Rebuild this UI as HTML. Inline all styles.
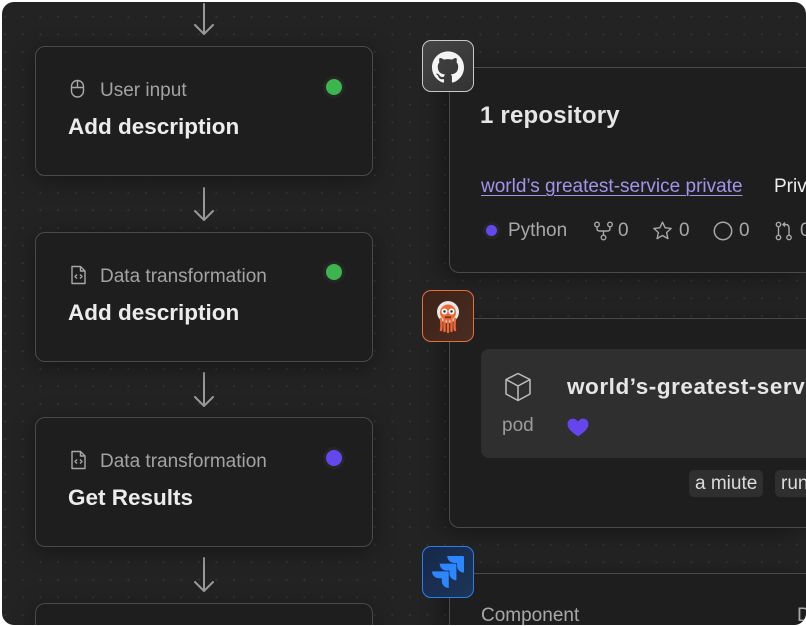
<!DOCTYPE html>
<html><head><meta charset="utf-8">
<style>
*{box-sizing:border-box;margin:0;padding:0}
html,body{width:806px;height:626px;background:#fff;overflow:hidden;font-family:"Liberation Sans",sans-serif}
#c{position:absolute;left:2px;top:2px;width:804px;height:623px;border-radius:12px;overflow:hidden;
 background-color:#232324;
 background-image:radial-gradient(circle,#333335 0.9px,transparent 1.3px);
 background-size:17.6px 17.6px;background-position:-5.5px 6.0px}
#w{position:absolute;left:-2px;top:-2px;width:806px;height:626px;overflow:hidden}
.a{position:absolute}
.card{position:absolute;left:35px;width:338px;height:130px;background:#1e1e1e;border:1.5px solid #4a4a4a;border-radius:10px;box-shadow:0 4px 22px rgba(0,0,0,.38)}
.lbl{position:absolute;left:64px;top:34px;font-size:19px;line-height:19px;color:#a3a3a3;white-space:nowrap}
.ttl{position:absolute;left:32px;top:68.5px;font-size:22.5px;line-height:22.5px;font-weight:bold;color:#ececec;white-space:nowrap}
.dot{position:absolute;left:290px;top:32px;width:16px;height:16px;border-radius:50%;box-shadow:0 0 0 3px #262626}
.ic{position:absolute;left:34px;top:32px}
.rc{position:absolute;left:449px;width:357px;background:#1e1e1e;border:1.5px solid #4a4a4a;border-right:none;border-radius:10px 0 0 10px;box-shadow:-6px 4px 22px rgba(0,0,0,.38)}
.box{position:absolute;left:422px;width:52px;height:52px;border-radius:9px;border:1.5px solid}
.t19{position:absolute;font-size:19px;line-height:19px;white-space:nowrap}
</style></head><body>
<div id="c"><div id="w">

<!-- arrows -->
<svg class="a" style="left:0;top:0" width="806" height="626">
 <g stroke="#9a9a9a" stroke-width="2" fill="none" stroke-linecap="round" stroke-linejoin="round">
  <path d="M204 4V34M195 25L204 34L213 25"/>
  <path d="M204 188V220M195 211L204 220L213 211"/>
  <path d="M204 373V406M195 397L204 406L213 397"/>
  <path d="M204 558V591M195 582L204 591L213 582"/>
 </g>
</svg>

<!-- left cards -->
<div class="card" style="top:46px">
 <svg class="ic" width="16" height="20" viewBox="0 0 16 20"><g fill="none" stroke="#a8a8a8" stroke-width="1.4"><rect x="1.5" y="1.5" width="12" height="16.5" rx="6"/><path d="M7.5 1.5V8M1.5 8.5H13.5"/></g></svg>
 <div class="lbl">User input</div>
 <div class="ttl">Add description</div>
 <div class="dot" style="background:#3cb54f;top:31.5px"></div>
</div>
<div class="card" style="top:232px">
 <svg class="ic" width="17" height="20" viewBox="0 0 17 20"><g fill="none" stroke="#a8a8a8" stroke-width="1.4" stroke-linejoin="round"><path d="M2 1.5H10.5L15 6V18.5H2Z"/><path d="M10.5 1.5V6H15"/><path d="M7 9.5L5 11.5L7 13.5M10 9.5L12 11.5L10 13.5"/></g></svg>
 <div class="lbl">Data transformation</div>
 <div class="ttl">Add description</div>
 <div class="dot" style="background:#3cb54f;top:31px"></div>
</div>
<div class="card" style="top:417px">
 <svg class="ic" width="17" height="20" viewBox="0 0 17 20"><g fill="none" stroke="#a8a8a8" stroke-width="1.4" stroke-linejoin="round"><path d="M2 1.5H10.5L15 6V18.5H2Z"/><path d="M10.5 1.5V6H15"/><path d="M7 9.5L5 11.5L7 13.5M10 9.5L12 11.5L10 13.5"/></g></svg>
 <div class="lbl">Data transformation</div>
 <div class="ttl">Get Results</div>
 <div class="dot" style="background:#6547ee;top:31.5px"></div>
</div>
<div class="card" style="top:603px;height:23px;border-bottom:none;border-radius:10px 10px 0 0"></div>

<!-- repo card -->
<div class="rc" style="top:67px;height:206px"></div>
<div class="a" style="left:480px;top:103.7px;font-size:24px;line-height:24px;font-weight:bold;color:#e6e6e6;white-space:nowrap;letter-spacing:0.2px">1 repository</div>
<div class="t19" style="left:481px;top:176.6px;color:#a393ea;text-decoration:underline;text-decoration-thickness:1px;text-underline-offset:3px">world’s greatest-service private</div>
<div class="t19" style="left:774px;top:176.6px;color:#eeeeee">Private</div>
<div class="a" style="left:485.5px;top:225.2px;width:11px;height:11px;border-radius:50%;background:#6547ee;box-shadow:0 0 0 3px #262626"></div>
<div class="t19" style="left:508px;top:220.6px;color:#a8a8a8">Python</div>
<svg class="a" style="left:593px;top:221px" width="22" height="20" viewBox="0 0 22 20"><g fill="none" stroke="#a8a8a8" stroke-width="1.4"><circle cx="4" cy="3.5" r="2.3"/><circle cx="17" cy="3.5" r="2.3"/><circle cx="10.5" cy="16.5" r="2.3"/><path d="M4 6V7.5Q4 10 6.5 10H14.5Q17 10 17 7.5V6M10.5 10V14"/></g></svg>
<div class="t19" style="left:618px;top:220.6px;color:#a8a8a8">0</div>
<svg class="a" style="left:652px;top:221px" width="21" height="20" viewBox="0 0 21 20"><path d="M10.5 1.2L13.1 6.8L19.2 7.4L14.6 11.5L15.9 17.6L10.5 14.5L5.1 17.6L6.4 11.5L1.8 7.4L7.9 6.8Z" fill="none" stroke="#a8a8a8" stroke-width="1.4" stroke-linejoin="round"/></svg>
<div class="t19" style="left:679px;top:220.6px;color:#a8a8a8">0</div>
<svg class="a" style="left:713px;top:221px" width="20" height="20"><circle cx="10" cy="10" r="8.7" fill="none" stroke="#a8a8a8" stroke-width="1.5"/></svg>
<div class="t19" style="left:739px;top:220.6px;color:#a8a8a8">0</div>
<svg class="a" style="left:775px;top:221px" width="18" height="20" viewBox="0 0 18 20"><g fill="none" stroke="#a8a8a8" stroke-width="1.4"><circle cx="3.5" cy="3.5" r="2.2"/><circle cx="3.5" cy="16.5" r="2.2"/><circle cx="14" cy="16.5" r="2.2"/><path d="M3.5 5.8V14.2M14 14.2V7Q14 3.5 10.5 3.5H8M10 1.5L8 3.5L10 5.5"/></g></svg>
<div class="t19" style="left:800px;top:220.6px;color:#a8a8a8">0</div>

<div class="box" style="top:40px;background:linear-gradient(135deg,#454545,#333);border-color:#c9c9c9">
 <svg class="a" style="left:8.5px;top:9.5px" width="32" height="32" viewBox="0 0 24 24"><path fill="#f4f4f4" d="M12 .297c-6.63 0-12 5.373-12 12 0 5.303 3.438 9.8 8.205 11.385.6.113.82-.258.82-.577 0-.285-.01-1.04-.015-2.040-3.338.724-4.042-1.610-4.042-1.610C4.422 18.070 3.633 17.700 3.633 17.700c-1.087-.744.084-.729.084-.729 1.205.084 1.838 1.236 1.838 1.236 1.070 1.835 2.809 1.305 3.495.998.108-.776.417-1.305.760-1.605-2.665-.3-5.466-1.332-5.466-5.930 0-1.310.465-2.380 1.235-3.220-.135-.303-.540-1.523.105-3.176 0 0 1.005-.322 3.300 1.230.960-.267 1.980-.399 3-.405 1.020.006 2.040.138 3 .405 2.280-1.552 3.285-1.230 3.285-1.230.645 1.653.240 2.873.120 3.176.765.840 1.230 1.910 1.230 3.220 0 4.610-2.805 5.625-5.475 5.920.420.360.810 1.096.810 2.220 0 1.606-.015 2.896-.015 3.286 0 .315.210.690.825.570C20.565 22.092 24 17.592 24 12.297c0-6.627-5.373-12-12-12"/></svg>
</div>

<!-- argo card -->
<div class="rc" style="top:318px;height:210px"></div>
<div class="a" style="left:481px;top:349px;width:325px;height:109px;background:#2f2f2f;border-radius:8px 0 0 8px"></div>
<svg class="a" style="left:504px;top:372px" width="28" height="30" viewBox="0 0 28 30"><g fill="none" stroke="#bdbdbd" stroke-width="1.5" stroke-linejoin="round"><path d="M14 1.5L26 7.5V22L14 28.5L2 22V7.5Z"/><path d="M2 7.5L14 14L26 7.5M14 14V28.5"/></g></svg>
<div class="a" style="left:567px;top:375.7px;font-size:22.5px;line-height:22.5px;font-weight:bold;color:#e6e6e6;white-space:nowrap;letter-spacing:0.55px">world’s-greatest-service</div>
<div class="t19" style="left:502px;top:415.9px;color:#9c9c9c">pod</div>
<svg class="a" style="left:567px;top:417.5px" width="22" height="19" viewBox="0 0 21 18"><path d="M10.5 17.5C4 13 0.5 9.8 0.5 5.5C0.5 2.5 2.8 0.5 5.5 0.5C7.8 0.5 9.5 1.8 10.5 3.5C11.5 1.8 13.2 0.5 15.5 0.5C18.2 0.5 20.5 2.5 20.5 5.5C20.5 9.8 17 13 10.5 17.5Z" fill="#6645ee"/></svg>
<div class="a" style="left:689px;top:470px;width:74px;height:27px;background:#2f2f2f;border-radius:5px"></div>
<div class="t19" style="left:695px;top:473.9px;color:#dcdcdc">a miute</div>
<div class="a" style="left:775px;top:470px;width:31px;height:27px;background:#2f2f2f;border-radius:5px 0 0 5px"></div>
<div class="a" style="left:781px;top:473.9px;width:25px;height:22px;overflow:hidden;font-size:19px;line-height:19px;white-space:nowrap;color:#dcdcdc">running</div>

<div class="box" style="top:290px;background:linear-gradient(135deg,#3c2218,#4a2c22);border-color:#e36f3e">
 <svg class="a" style="left:9px;top:6px" width="34" height="40" viewBox="0 0 34 40">
  <circle cx="16" cy="15" r="11" fill="#e9e9e9"/>
  <circle cx="16" cy="15.5" r="8" fill="#ec6a3a"/>
  <circle cx="12.5" cy="14.5" r="3" fill="#fff"/><circle cx="19.5" cy="14.5" r="3" fill="#fff"/>
  <circle cx="12.5" cy="14.5" r="1.2" fill="#222"/><circle cx="19.5" cy="14.5" r="1.2" fill="#222"/>
  <path d="M9 22Q10 30 9 33M12.5 23V34M16 23V35M19.5 23V34M23 22Q22 30 23 33" stroke="#ec6a3a" stroke-width="2.4" fill="none" stroke-linecap="round"/>
  <rect x="13" y="19.5" width="6" height="1.6" fill="#6b2a15"/>
 </svg>
</div>

<!-- jira card -->
<div class="rc" style="top:573px;height:53px;border-bottom:none;border-radius:10px 0 0 0"></div>
<div class="t19" style="left:481px;top:605.9px;color:#a8a8a8">Component</div>
<div class="a" style="left:797px;top:605.9px;width:9px;height:20px;overflow:hidden;font-size:19px;line-height:19px;white-space:nowrap;color:#a8a8a8">Description</div>
<div class="box" style="top:546px;background:linear-gradient(135deg,#15284a,#1e3558);border-color:#2a7fef">
 <svg class="a" style="left:9px;top:9px" width="32" height="32" viewBox="0 0 24 24"><path fill="#2b86ff" d="M11.571 11.513H0a5.218 5.218 0 0 0 5.232 5.215h2.13v2.057A5.215 5.215 0 0 0 12.575 24V12.518a1.005 1.005 0 0 0-1.005-1.005zm5.723-5.756H5.736a5.215 5.215 0 0 0 5.215 5.214h2.129v2.058a5.218 5.218 0 0 0 5.215 5.214V6.758a1.001 1.001 0 0 0-1.001-1.001zM23.013 0H11.455a5.215 5.215 0 0 0 5.215 5.215h2.129v2.057A5.215 5.215 0 0 0 24 12.483V1.005A1.001 1.001 0 0 0 23.013 0Z"/></svg>
</div>

</div></div>
</body></html>
